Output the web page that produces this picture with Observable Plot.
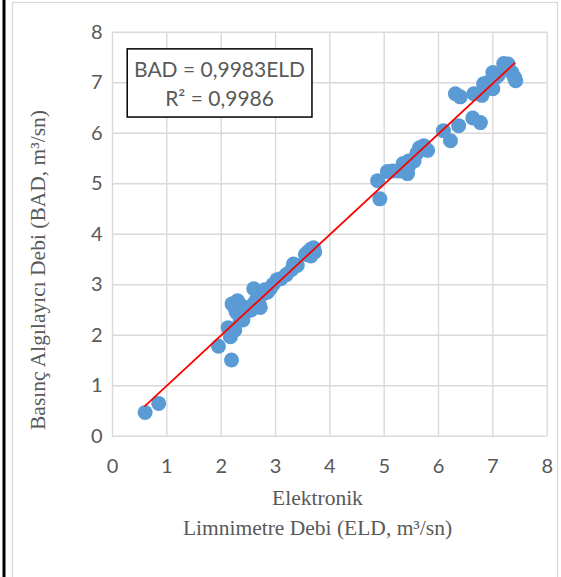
<!DOCTYPE html>
<html>
<head>
<meta charset="utf-8">
<script src="https://cdn.jsdelivr.net/npm/d3@7"></script>
<script src="https://cdn.jsdelivr.net/npm/@observablehq/plot@0.6"></script>
<style>
  html, body { margin: 0; padding: 0; background: #fff; }
  #chart { position: relative; width: 561px; height: 577px; }
</style>
</head>
<body>
<div id="chart"></div>
<script>
// ELD (x) values, m3/sn
const eld = [
  0.60, 0.85, 1.95, 2.19, 2.13, 2.17, 2.20, 2.23, 2.28, 2.30, 2.35, 2.40, 2.45, 2.28,
  2.50, 2.55, 2.60, 2.60, 2.65, 2.70, 2.72, 2.75, 2.80, 2.85, 2.90, 2.35, 2.25, 2.32, 2.26,
  2.95, 3.03, 3.10, 3.20, 3.30, 3.33, 3.40, 3.55, 3.60, 3.65, 3.70, 3.65, 3.72,
  4.92, 4.88, 5.06, 5.15, 5.30, 5.35, 5.43, 5.45, 5.49, 5.55, 5.60, 5.65, 5.73, 5.80, 5.28, 5.45,
  6.09, 6.22, 6.31, 6.40, 6.37, 6.63, 6.65, 6.77, 6.83, 6.85, 6.90, 6.95, 7.00, 7.05,
  7.10, 7.20, 7.28, 7.35, 7.42, 7.40, 7.00, 6.80
];
// BAD (y) values, m3/sn
const bad = [
  0.47, 0.65, 1.78, 1.51, 2.15, 1.97, 2.62, 2.63, 2.45, 2.68, 2.60, 2.30, 2.45, 2.55,
  2.55, 2.50, 2.62, 2.92, 2.70, 2.60, 2.55, 2.80, 2.90, 2.85, 2.92, 2.30, 2.10, 2.55, 2.52,
  3.00, 3.10, 3.12, 3.20, 3.30, 3.41, 3.38, 3.60, 3.65, 3.70, 3.73, 3.57, 3.65,
  4.70, 5.06, 5.24, 5.25, 5.28, 5.40, 5.20, 5.45, 5.42, 5.45, 5.60, 5.71, 5.75, 5.66, 5.25, 5.35,
  6.05, 5.85, 6.78, 6.72, 6.15, 6.30, 6.78, 6.21, 6.98, 6.95, 7.00, 6.90, 7.20, 7.10,
  7.15, 7.38, 7.37, 7.20, 7.04, 7.10, 6.88, 6.75
];
const xTicks = [0, 1, 2, 3, 4, 5, 6, 7, 8];
const yTicks = [0, 1, 2, 3, 4, 5, 6, 7, 8];
const slope = 0.9983;
const r2 = "0,9986";
const trendRange = [0.6, 7.4];
const equationLines = ["BAD = 0,9983ELD", "R² = " + r2];
const xTitle = ["Elektronik", "Limnimetre Debi (ELD, m³/sn)"];
const yTitle = "Basınç Algılayıcı Debi (BAD, m³/sn)";

const points = eld.map((x, i) => ({x, y: bad[i]}));
const trend = trendRange.map(x => ({x, y: slope * x}));
const boxLabel = [
  {x: 1.97, y: 7.24, text: equationLines[0]},
  {x: 1.97, y: 6.68, text: equationLines[1]}
];

const grey = "#595959";
const fmt = d => String(d);
const plot = Plot.plot({
  width: 561,
  height: 577,
  marginLeft: 112,
  marginRight: 14.3,
  marginTop: 31.7,
  marginBottom: 141.3,
  style: {fontFamily: "Lato, sans-serif", fontSize: "20px", color: grey, background: "transparent"},
  x: {domain: [0, 8], ticks: xTicks},
  y: {domain: [0, 8], ticks: yTicks},
  marks: [
    Plot.gridX(xTicks, {stroke: "#d9d9d9", strokeOpacity: 1, strokeWidth: 1.4}),
    Plot.gridY(yTicks, {stroke: "#d9d9d9", strokeOpacity: 1, strokeWidth: 1.4}),
    Plot.axisX(xTicks, {tickSize: 0, tickPadding: 23, label: null, fill: grey, fontSize: 20, tickFormat: fmt}),
    Plot.axisY(yTicks, {tickSize: 0, tickPadding: 10, label: null, fill: grey, fontSize: 20, tickFormat: fmt}),
    Plot.dot(points, {x: "x", y: "y", r: 7.5, fill: "#5b9bd5", stroke: "none"}),
    Plot.line(trend, {x: "x", y: "y", stroke: "#ff0000", strokeWidth: 1.8}),
    Plot.rect([{x1: 0.28, x2: 3.68, y1: 6.31, y2: 7.66}], {x1: "x1", x2: "x2", y1: "y1", y2: "y2", fill: "white", stroke: "black", strokeWidth: 1.5}),
    Plot.text(boxLabel, {x: "x", y: "y", text: "text", fill: grey, fontSize: 21, lineAnchor: "middle", textAnchor: "middle"})
  ]
});
document.getElementById("chart").appendChild(plot);

const svg = d3.select(plot);
// outer frame
svg.append("rect").attr("x", 12.5).attr("y", 2.5).attr("width", 545).attr("height", 580)
  .attr("fill", "none").attr("stroke", "#d9d9d9").attr("stroke-width", 1.3);
svg.append("line").attr("x1", 4).attr("x2", 4).attr("y1", 0).attr("y2", 577)
  .attr("stroke", "black").attr("stroke-width", 3);

const serif = "'Liberation Serif', 'Times New Roman', serif";
svg.append("text").attr("x", 317.5).attr("y", 505).attr("text-anchor", "middle")
  .attr("font-family", serif).attr("font-size", 21.5).attr("fill", grey).text(xTitle[0]);
svg.append("text").attr("x", 317.5).attr("y", 535).attr("text-anchor", "middle")
  .attr("font-family", serif).attr("font-size", 21.5).attr("fill", grey).text(xTitle[1]);
svg.append("text").attr("transform", "translate(45,270) rotate(-90)").attr("text-anchor", "middle")
  .attr("font-family", serif).attr("font-size", 21.5).attr("fill", grey).text(yTitle);
</script>
</body>
</html>
